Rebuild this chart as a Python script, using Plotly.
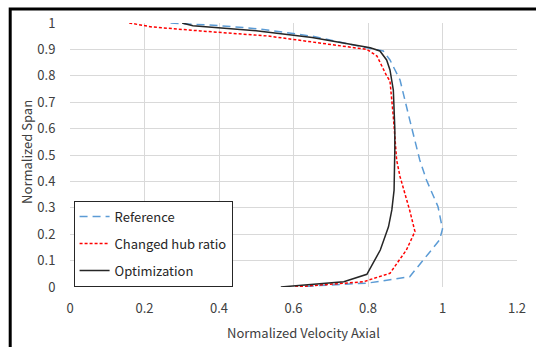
import plotly.graph_objects as go

ref_x = [0.27, 0.40, 0.505, 0.65, 0.797, 0.841, 0.859, 0.886, 0.912, 0.939, 0.957, 0.988, 1.0, 0.992, 0.912, 0.80, 0.664, 0.62]
ref_y = [1.0, 0.99, 0.978, 0.95, 0.906, 0.894, 0.86, 0.784, 0.633, 0.481, 0.405, 0.304, 0.22, 0.178, 0.039, 0.015, 0.005, 0.0]

hub_x = [0.159, 0.22, 0.35, 0.53, 0.797, 0.824, 0.85, 0.859, 0.868, 0.877, 0.886, 0.912, 0.926, 0.903, 0.859, 0.788, 0.60]
hub_y = [1.0, 0.985, 0.97, 0.951, 0.90, 0.875, 0.80, 0.78, 0.645, 0.48, 0.418, 0.29, 0.21, 0.14, 0.052, 0.02, 0.0]

opt_x = [0.301, 0.33, 0.505, 0.65, 0.806, 0.832, 0.85, 0.859, 0.868, 0.872, 0.872, 0.870, 0.864, 0.855, 0.833, 0.797, 0.735, 0.566]
opt_y = [1.0, 0.99, 0.97, 0.945, 0.906, 0.894, 0.86, 0.822, 0.746, 0.6, 0.52, 0.367, 0.292, 0.228, 0.14, 0.048, 0.02, 0.0]

x_ticks = [0, 0.2, 0.4, 0.6, 0.8, 1, 1.2]
x_labels = ["0", "0.2", "0.4", "0.6", "0.8", "1", "1.2"]
y_ticks = [0, 0.1, 0.2, 0.3, 0.4, 0.5, 0.6, 0.7, 0.8, 0.9, 1]
y_labels = ["0", "0.1", "0.2", "0.3", "0.4", "0.5", "0.6", "0.7", "0.8", "0.9", "1"]

FONT = "Noto Sans CJK KR, Open Sans, sans-serif"

fig = go.Figure()
fig.add_trace(go.Scatter(x=ref_x, y=ref_y, mode="lines", name="Reference", legendgroup="a",
                         line=dict(color="#5b9bd5", width=1.5, dash="8px,5px")))
fig.add_trace(go.Scatter(x=hub_x, y=hub_y, mode="lines", name="Changed hub ratio", legendgroup="b",
                         line=dict(color="#ff0000", width=1.5, dash="3px,2px")))
fig.add_trace(go.Scatter(x=opt_x, y=opt_y, mode="lines", name="Optimization", legendgroup="c",
                         line=dict(color="#262626", width=1.5)))

fig.update_layout(
    width=536, height=347,
    margin=dict(l=70, r=10, t=23, b=60),
    paper_bgcolor="white", plot_bgcolor="white",
    font=dict(family=FONT, size=13, color="#404040"),
    showlegend=True,
    legend=dict(x=0.008, y=0.327, xanchor="left", yanchor="top",
                bgcolor="white", bordercolor="#262626", borderwidth=1,
                tracegroupgap=7, font=dict(size=13, color="#262626")),
    xaxis=dict(range=[0, 1.2], tickvals=x_ticks, ticktext=x_labels,
               showgrid=True, gridcolor="#d9d9d9", gridwidth=1, zeroline=False,
               showline=False, ticks="outside", ticklen=9, tickcolor="rgba(0,0,0,0)",
               tickfont=dict(size=13, color="#404040")),
    yaxis=dict(range=[0, 1], tickvals=y_ticks, ticktext=y_labels,
               showgrid=True, gridcolor="#d9d9d9", gridwidth=1, zeroline=False,
               showline=False, ticks="outside", ticklen=11, tickcolor="rgba(0,0,0,0)",
               tickfont=dict(size=13, color="#404040")),
    annotations=[
        dict(text="Normalized Velocity Axial", xref="paper", yref="paper",
             x=(308 - 70) / 456, y=-(332 - 287) / 264, xanchor="center", yanchor="middle",
             showarrow=False, font=dict(size=13, color="#404040")),
        dict(text="Normalized Span", xref="paper", yref="paper",
             x=-(70 - 25) / 456, y=(287 - 152) / 264, xanchor="center", yanchor="middle",
             textangle=-90, showarrow=False, font=dict(size=13, color="#404040")),
    ],
    shapes=[
        dict(type="rect", xref="paper", yref="paper",
             x0=-(70 - 9) / 456, x1=1.3, y0=-0.6, y1=(287 - 9) / 264,
             line=dict(color="black", width=3), fillcolor="rgba(0,0,0,0)", layer="above"),
    ],
)

fig.write_html("out.html")
